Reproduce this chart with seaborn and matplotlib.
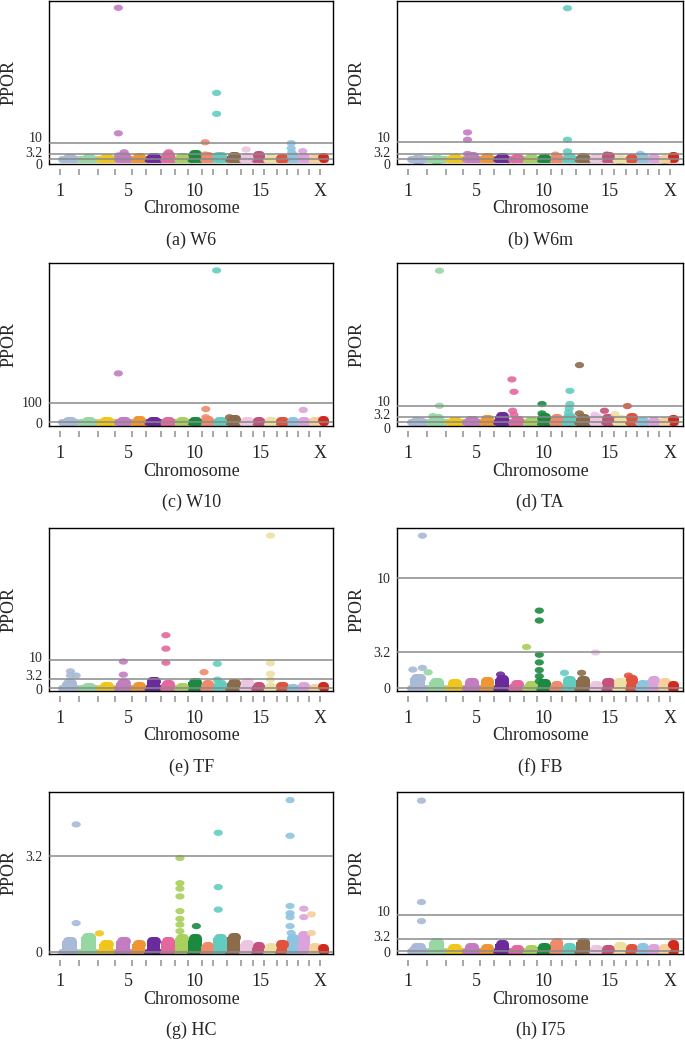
import numpy as np
import pandas as pd
import seaborn as sns
import matplotlib.pyplot as plt
from matplotlib.path import Path
from matplotlib.markers import MarkerStyle
from matplotlib.transforms import ScaledTranslation

# chromosomes (mouse 1-19 + X), drawn widths along the genome axis
chrom_names = [str(i) for i in range(1, 20)] + ['X']
chrom_len = [19.0, 18.7, 17.3, 16.7, 14.0, 15.3, 14.0, 13.3, 13.4, 11.6,
             13.4, 14.0, 12.0, 11.6, 12.4, 10.6, 11.0, 11.0, 10.7, 6.7]
chrom_colors = ['#a9bad6', '#96d7a2', '#efc61c', '#c47cc1', '#ef9532',
                '#6b2b9b', '#e2689f', '#a9cf5c', '#1b8a40', '#f08a6b',
                '#62cdbf', '#8c6b4b', '#ecc5e3', '#c4527c', '#eee0a2',
                '#e0523c', '#8fc4e0', '#dba2dc', '#f5cf9c', '#d2291f']
first_start = 10.7
label_names = ['1', '5', '10', '15', 'X']
label_pos = [11, 79, 145, 211, 271]

# significant / elevated SNPs per trait: (chromosome, position within chrom, PPOR)
w6_hits = [('4', 0.2, 98.0), ('4', 0.2, 16.6), ('4', 0.55, 4.3), ('4', 0.2, 2.2),
           ('10', 0.3, 10.8), ('10', 0.3, 2.8),
           ('11', 0.25, 42.8), ('11', 0.25, 29.2), ('11', 0.25, 2.2),
           ('13', 0.45, 6.1), ('17', 0.35, 10.2), ('17', 0.35, 6.9),
           ('17', 0.4, 4.3), ('18', 0.4, 5.0), ('7', 0.55, 4.3)]
w6m_hits = [('4', 0.24, 15.6), ('4', 0.24, 11.3), ('4', 0.24, 3.0),
            ('11', 0.37, 88.3), ('11', 0.37, 11.3), ('11', 0.37, 4.5),
            ('10', 0.4, 2.6), ('14', 0.4, 2.6), ('17', 0.3, 3.0)]
w10_hits = [('11', 0.25, 827), ('4', 0.2, 264), ('10', 0.35, 69), ('10', 0.35, 24),
            ('12', 0.2, 24), ('18', 0.45, 64), ('5', 0.5, 14)]
ta_hits = [('2', 0.65, 96.2), ('2', 0.65, 10.2), ('2', 0.3, 3.6),
           ('7', 0.15, 27.0), ('7', 0.3, 19.1), ('7', 0.2, 7.0), ('7', 0.3, 4.5),
           ('9', 0.35, 11.3), ('9', 0.35, 5.3),
           ('11', 0.55, 19.7), ('11', 0.55, 11.3), ('11', 0.5, 8.5), ('11', 0.45, 6.0),
           ('12', 0.25, 36.1), ('12', 0.25, 5.3),
           ('14', 0.2, 7.0), ('15', 0.1, 4.9), ('16', 0.1, 10.0), ('13', 0.4, 4.5)]
tf_hits = [('15', 0.5, 54.6), ('15', 0.5, 9.0), ('15', 0.5, 5.2), ('15', 0.5, 3.1),
           ('7', 0.35, 19.0), ('7', 0.35, 14.2), ('7', 0.35, 9.2),
           ('4', 0.5, 9.6), ('4', 0.5, 4.9), ('10', 0.2, 5.8),
           ('11', 0.3, 8.8), ('11', 0.3, 3.1),
           ('1', 0.55, 6.1), ('1', 0.85, 4.6), ('1', 0.55, 4.6)]
fb_hits = [('1', 0.75, 13.8), ('1', 0.25, 1.65), ('1', 0.75, 1.8),
           ('9', 0.15, 7.0), ('9', 0.15, 6.1), ('9', 0.15, 3.0), ('9', 0.15, 2.3),
           ('9', 0.15, 1.6), ('9', 0.15, 1.05), ('9', 0.15, 0.6),
           ('8', 0.2, 3.7), ('13', 0.45, 3.2), ('2', 0.05, 1.4), ('11', 0.15, 1.35),
           ('12', 0.4, 1.35), ('6', 0.4, 1.2), ('16', 0.2, 1.1)]
hc_hits = [('1', 0.85, 4.24), ('1', 0.85, 0.95),
           ('8', 0.37, 3.12), ('8', 0.37, 2.28), ('8', 0.37, 2.1), ('8', 0.37, 1.84),
           ('8', 0.37, 1.35), ('8', 0.37, 1.09), ('8', 0.37, 0.9), ('8', 0.37, 0.68),
           ('9', 0.6, 0.85),
           ('11', 0.37, 3.96), ('11', 0.37, 2.15), ('11', 0.37, 1.4),
           ('17', 0.25, 5.05), ('17', 0.25, 3.86), ('17', 0.25, 1.52), ('17', 0.25, 1.28),
           ('17', 0.25, 1.15), ('17', 0.25, 0.85), ('17', 0.35, 0.62),
           ('18', 0.5, 1.43), ('18', 0.5, 1.15), ('19', 0.2, 1.24), ('19', 0.2, 0.62),
           ('3', 0.1, 0.61)]
i75_hits = [('1', 0.7, 41.8), ('1', 0.7, 13.6), ('1', 0.7, 8.3)]

# height of the background SNP cloud on each chromosome
w6_bg = [0.5, 0.3, 0.8, 2, 1, 1.5, 2.5, 1, 3, 2, 2, 2, 1, 2.5, 0.5, 0.5, 2, 1, 0.5, 1.5]
w6m_bg = [0.3, 0.3, 0.5, 1.5, 1, 1, 0.5, 0.5, 0.5, 1, 1, 1, 0.5, 1.5, 0.3, 0.5, 1, 0.5, 0.3, 1.5]
w10_bg = [3, 3, 3, 5, 8, 5, 3, 3, 5, 8, 5, 15, 3, 6, 3, 5, 3, 5, 3, 8]
ta_bg = [0.3, 2.5, 0.5, 1, 2, 3.5, 1, 0.5, 3, 2.5, 3, 2.5, 2.5, 2.5, 2, 3, 0.8, 0.5, 0.5, 1.5]
tf_bg = [2, 0.5, 1, 2, 1, 2.8, 1.6, 0.5, 2.2, 1.5, 1.5, 2, 2.2, 1, 0.5, 0.8, 0.3, 0.8, 0.3, 1]
fb_bg = [0.9, 0.5, 0.4, 0.5, 0.6, 0.8, 0.35, 0.25, 0.45, 0.25, 0.7, 0.7, 0.25, 0.5, 0.5, 0.8, 0.35, 0.7, 0.5, 0.25]
hc_bg = [0.35, 0.5, 0.25, 0.35, 0.25, 0.35, 0.35, 0.45, 0.45, 0.2, 0.45, 0.5, 0.25, 0.2, 0.15, 0.25, 0.45, 0.55, 0.15, 0.12]
i75_bg = [1, 2.5, 0.8, 1.2, 0.8, 1.9, 0.5, 0.6, 1.2, 2.4, 1, 2.6, 0.5, 0.6, 1.3, 0.8, 1, 0.9, 0.9, 1.9]

# caption, hits, cloud, y ticks, y range, y tick label nudges (px, + is up)
panels = [
    ('(a) W6', w6_hits, w6_bg, [0, 3.2, 10], (-3.0, 102.6), [-5, 2, 6]),
    ('(b) W6m', w6m_hits, w6m_bg, [0, 3.2, 10], (-2.6, 92.7), [-5, 2, 5]),
    ('(c) W10', w10_hits, w10_bg, [0, 100], (-21.9, 869), [-1, 1]),
    ('(d) TA', ta_hits, ta_bg, [0, 3.2, 10], (-2.5, 101.3), [-6, 3, 5]),
    ('(e) TF', tf_hits, tf_bg, [0, 3.2, 10], (-0.75, 57.3), [-1, 4, 3]),
    ('(f) FB', fb_hits, fb_bg, [0, 3.2, 10], (-0.25, 14.5), [0, 0, 0]),
    ('(g) HC', hc_hits, hc_bg, [0, 3.2], (-0.08, 5.33), [0, 0]),
    ('(h) I75', i75_hits, i75_bg, [0, 3.2, 10], (-0.85, 44.3), [-1, 3, 4]),
]

starts = first_start + np.concatenate([[0], np.cumsum(chrom_len)[:-1]])
ends = starts + np.array(chrom_len)
centers = (starts + ends) / 2
lens = np.array(chrom_len)
palette = dict(zip(chrom_names, chrom_colors))

t = np.linspace(0, 2 * np.pi, 40)
dot = MarkerStyle(Path(np.column_stack([np.cos(t), 0.68 * np.sin(t)])))

sns.set_style('white')
plt.rcParams['font.family'] = ['Liberation Serif', 'DejaVu Serif']

W, H = 685, 1041
fig = plt.figure(figsize=(W / 100, H / 100), dpi=100)
rows_px = [(0.7, 163.5), (262.7, 425.7), (528, 690.5), (791.7, 954)]
cols_px = [(49.3, 333.3), (397.3, 683.3)]


def draw_panel(ax, caption, hits, bg, ticks, ylim, nudges):
    # background cloud: a band at zero plus a rounded dome per chromosome
    band = ax.hlines(np.zeros(20), starts + 1.5, ends - 1.5, colors=chrom_colors,
                     lw=5, zorder=2)
    band.set_capstyle('round')
    ax.bar(centers, bg, width=0.3 * lens + 9, color=chrom_colors, lw=0, zorder=2)
    tops = ax.hlines(bg, centers - 0.15 * lens, centers + 0.15 * lens,
                     colors=chrom_colors, lw=6.5, zorder=2)
    tops.set_capstyle('round')

    df = pd.DataFrame(hits, columns=['chrom', 'frac', 'ppor'])
    idx = df['chrom'].map({c: i for i, c in enumerate(chrom_names)})
    df['pos'] = starts[idx] + df['frac'] * lens[idx]
    sns.scatterplot(data=df, x='pos', y='ppor', hue='chrom', hue_order=chrom_names,
                    palette=palette, marker=dot, s=44, linewidth=0, alpha=0.9,
                    legend=False, ax=ax, zorder=3)

    for v in ticks:
        ax.axhline(v, color='#8a8a8a', lw=1.1, zorder=4)

    ax.set_xlim(0, 284)
    ax.set_ylim(*ylim)
    ax.set_yticks(ticks, [('%g' % v) for v in ticks])
    ax.tick_params(axis='y', length=0, pad=5, labelsize=10)
    for lab, dy in zip(ax.get_yticklabels(), nudges):
        lab.set_transform(lab.get_transform() +
                          ScaledTranslation(0, dy / 100, fig.dpi_scale_trans))
    ax.set_xticks(label_pos, label_names)
    ax.tick_params(axis='x', length=0, pad=14, labelsize=13)
    ax.set_xlabel('Chromosome', fontsize=13)
    ax.xaxis.set_label_coords(0.5, -37 / 163)
    ax.set_ylabel('PPOR', fontsize=13)
    ax.yaxis.set_label_coords(-32 / 284, 0.5)
    for s in ax.spines.values():
        s.set_visible(True)
        s.set_color('black')
        s.set_linewidth(1.0)

    sec = ax.secondary_xaxis(-0.035)
    sec.set_xticks(starts)
    sec.tick_params(axis='x', length=4.5, width=1.1, color='#909090',
                    labelbottom=False, direction='out')
    sec.spines['bottom'].set_visible(False)

    ax.text(0.5, -77 / 163, caption, transform=ax.transAxes, ha='center',
            va='center', fontsize=13)


for k, (caption, hits, bg, ticks, ylim, nudges) in enumerate(panels):
    top, bot = rows_px[k // 2]
    left, right = cols_px[k % 2]
    ax = fig.add_axes([left / W, 1 - bot / H, (right - left) / W, (bot - top) / H])
    draw_panel(ax, caption, hits, bg, ticks, ylim, nudges)

fig.savefig('out.png', dpi=100, facecolor='white')
